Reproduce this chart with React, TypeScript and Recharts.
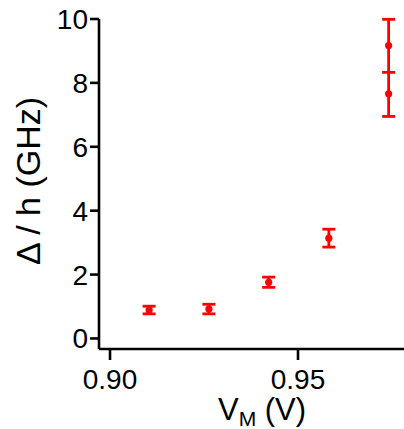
import { ScatterChart, Scatter, XAxis, YAxis, ErrorBar } from "recharts";

// measured points (x in V, gap in GHz, symmetric error)
const vm = [0.9104, 0.9263, 0.9422, 0.9582];
const gap = [0.89, 0.92, 1.76, 3.14];
const gapErr = [0.12, 0.15, 0.16, 0.28];

// last bias point: mean with asymmetric error, plus two individual values
const lastVm = 0.9741;
const lastMean = 8.33;
const lastErr: [number, number] = [1.38, 1.66];
const lastValues = [9.17, 7.66];

const xTicks = [0.9, 0.95];
const yTicks = [0, 2, 4, 6, 8, 10];

const RED = "#ff0000";
const FONT = "Liberation Sans, Arial, sans-serif";

const mainData = vm.map((v, i) => ({ x: v, y: gap[i], err: gapErr[i] }));
const meanData = [{ x: lastVm, y: lastMean, err: lastErr }];
const valueData = lastValues.map((y) => ({ x: lastVm, y }));

const Dot = (props: any) => <circle cx={props.cx} cy={props.cy} r={3.6} fill={RED} />;
const Dash = (props: any) => (
  <line x1={props.cx - 6.5} x2={props.cx + 6.5} y1={props.cy} y2={props.cy} stroke={RED} strokeWidth={2.8} />
);

const tickStyle = { fill: "#000", fontSize: 28, fontFamily: FONT };

const XLabel = () => (
  <text x={262} y={420} textAnchor="middle" fontSize={31} fontFamily={FONT} fill="#000">
    V<tspan fontSize={21} dy={6}>M</tspan>
    <tspan dy={-6}> (V)</tspan>
  </text>
);

const YLabel = () => (
  <text x={40} y={181} transform="rotate(-90, 40, 181)" textAnchor="middle" fontSize={34} fontFamily={FONT} fill="#000">
    Δ / h (GHz)
  </text>
);

export default function App() {
  return (
    <div style={{ position: "absolute", left: 0, top: 0 }}>
      <ScatterChart width={404} height={429} margin={{ top: 19, right: 0, bottom: 0, left: 0 }}>
        <XAxis
          type="number"
          dataKey="x"
          domain={[0.89707, 0.97819]}
          ticks={xTicks}
          allowDataOverflow
          tickFormatter={(v: number) => v.toFixed(2)}
          height={80}
          stroke="#000"
          strokeWidth={2.6}
          tickSize={11}
          tickMargin={9}
          tick={tickStyle}
          label={{ content: () => <XLabel /> }}
        />
        <YAxis
          type="number"
          dataKey="y"
          domain={[-0.33, 10]}
          ticks={yTicks}
          allowDataOverflow
          width={99}
          stroke="#000"
          strokeWidth={2.6}
          tickSize={9}
          tickMargin={2}
          tick={tickStyle}
          label={{ content: () => <YLabel /> }}
        />
        <Scatter data={mainData} shape={<Dot />} isAnimationActive={false}>
          <ErrorBar dataKey="err" direction="y" width={6.5} stroke={RED} strokeWidth={2.8} />
        </Scatter>
        <Scatter data={meanData} shape={<Dash />} isAnimationActive={false}>
          <ErrorBar dataKey="err" direction="y" width={6.5} stroke={RED} strokeWidth={2.8} />
        </Scatter>
        <Scatter data={valueData} shape={<Dot />} isAnimationActive={false} />
      </ScatterChart>
    </div>
  );
}
